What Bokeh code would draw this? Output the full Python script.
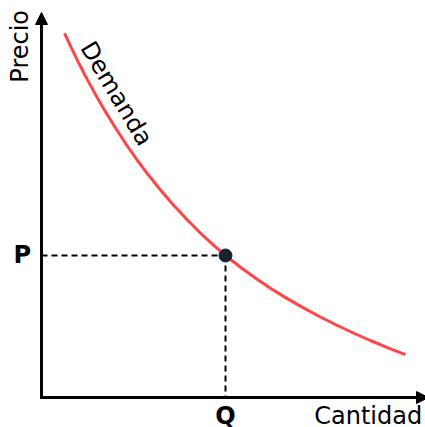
from bokeh.plotting import figure
from bokeh.models import Range1d, Arrow, NormalHead
from bokeh.core.properties import value
from bokeh.embed import file_html
from bokeh.resources import INLINE

# demand curve (quantity, price)
curve_q = [23, 30, 37, 44, 52, 62, 72, 84, 96, 106, 118, 131, 145, 160, 172,
           184, 200, 215, 229, 245, 262, 279, 296, 313, 329, 346, 364]
curve_p = [364.4, 349.4, 335.0, 321.4, 306.6, 289.1, 272.7, 254.2, 237.0, 223.7, 208.7,
           193.6, 178.5, 163.5, 152.3, 142.0, 129.5, 118.7, 109.3, 99.4, 89.6, 80.5,
           72.0, 64.0, 57.0, 49.9, 42.9]

# equilibrium point
point_q = [184]
point_p = [142]

axis_labels = ["Cantidad", "Precio"]
curve_label = "Demanda"
tick_labels = ["P", "Q"]

FONT = value("DejaVu Sans")

p = figure(width=425, height=427, output_backend="svg", toolbar_location=None,
           x_range=Range1d(-41, 384), y_range=Range1d(-30, 397),
           min_border=0)
p.axis.visible = False
p.grid.visible = False
p.outline_line_color = None
p.background_fill_color = "white"
p.border_fill_color = "white"

# axes as arrows
p.add_layout(Arrow(end=NormalHead(size=12, fill_color="black", line_color="black", line_width=1),
                   x_start=0, y_start=-1.5, x_end=0, y_end=385,
                   line_width=3, line_color="black"))
p.add_layout(Arrow(end=NormalHead(size=12, fill_color="black", line_color="black", line_width=1),
                   x_start=-1.5, y_start=0, x_end=387, y_end=0,
                   line_width=3, line_color="black"))

# dashed guides
p.line(x=[0, point_q[0]], y=[point_p[0], point_p[0]], line_color="black",
       line_width=2, line_dash="6 4")
p.line(x=[point_q[0], point_q[0]], y=[point_p[0], 0], line_color="black",
       line_width=2, line_dash="6 4")

# demand curve
p.line(x=curve_q, y=curve_p, line_color="#ff4646", line_width=3)

# point
p.scatter(x=point_q, y=point_p, size=13, fill_color="#152530", line_color="#152530")

# labels
p.text(x=[-19.3], y=[142.3], text=[tick_labels[0]], text_font=FONT, text_font_size="24px",
       text_font_style="bold", text_align="center", text_baseline="middle", text_color="black")
p.text(x=[point_q[0]], y=[-18.5], text=[tick_labels[1]], text_font=FONT, text_font_size="24px",
       text_font_style="bold", text_align="center", text_baseline="middle", text_color="black")
p.text(x=[380.7], y=[-18.5], text=[axis_labels[0]], text_font=FONT, text_font_size="24px",
       text_align="right", text_baseline="middle", text_color="black")
p.text(x=[-21.5], y=[351.2], text=[axis_labels[1]], text_font=FONT, text_font_size="24px",
       text_align="center", text_baseline="middle", angle=1.5708, text_color="black")
p.text(x=[75], y=[304], text=[curve_label], text_font=FONT, text_font_size="24px",
       text_align="center", text_baseline="middle", angle=-1.03, text_color="black")

open("out.html", "w").write(file_html(p, INLINE))
